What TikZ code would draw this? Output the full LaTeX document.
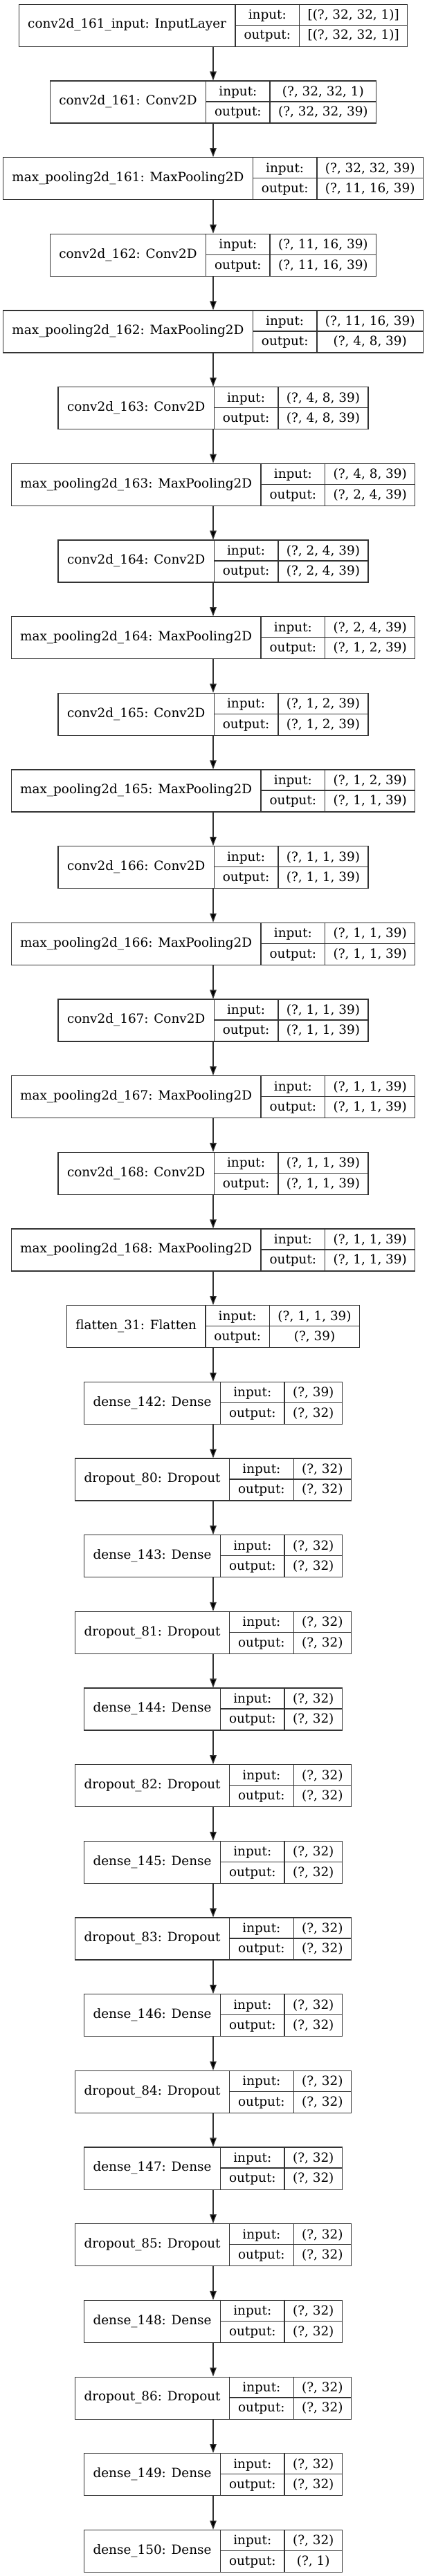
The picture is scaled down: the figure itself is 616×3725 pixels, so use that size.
\documentclass[tikz,border=0pt]{standalone}
\usepackage{fontspec}
\setmainfont{DejaVu Serif}
\usetikzlibrary{arrows.meta}
\newlength\LwA \newlength\LwB \newlength\LwI \newlength\LwO
\newcommand\lfont{\fontsize{18.4}{22}\selectfont}
\tikzset{
  layerbox/.style={draw=black!80, line width=1.3pt, inner sep=0pt},
  cellline/.style={draw=black!80, line width=1.3pt},
  lbl/.style={inner sep=0pt, anchor=base, font=\lfont},
  arr/.style={draw=black!80, line width=1.3pt, -{Triangle[length=13pt,width=9.5pt,fill=black]}},
}
\newcommand\layer[5]{%
  \pgfinterruptpicture
  \normalfont\lfont
  \settowidth\LwA{#3}\global\LwA=\LwA
  \settowidth\LwB{output:}\global\LwB=\LwB
  \settowidth\LwI{#4}\global\LwI=\LwI
  \settowidth\LwO{#5}\global\LwO=\LwO
  \endpgfinterruptpicture
  \pgfmathsetmacro\wa{\LwA+26}%
  \pgfmathsetmacro\wb{\LwB+25}%
  \pgfmathsetmacro\wc{max(\LwI,\LwO)+24}%
  \pgfmathsetmacro\W{\wa+\wb+\wc}%
  \pgfmathsetmacro\xl{308-\W/2}%
  \pgfmathsetmacro\xa{\xl+\wa}%
  \pgfmathsetmacro\xb{\xa+\wb}%
  \pgfmathsetmacro\xr{\xl+\W}%
  \pgfmathsetmacro\yt{-5.7-110.67*#2}%
  \pgfmathsetmacro\yb{\yt-61}%
  \pgfmathsetmacro\ym{\yt-30.5}%
  \node[layerbox, minimum width=\W pt, minimum height=61pt, anchor=north] (#1) at (308,\yt) {};
  \draw[cellline] (\xa,\yt) -- (\xa,\yb) (\xb,\yt) -- (\xb,\yb) (\xa,\ym) -- (\xr,\ym);
  \node[lbl] (#1-name) at ({(\xl+\xa)/2},\yt-35.3) {#3};
  \node[lbl] (#1-il) at ({(\xa+\xb)/2},\yt-22) {input:};
  \node[lbl] (#1-ol) at ({(\xa+\xb)/2},\yt-51.3) {output:};
  \node[lbl] (#1-iv) at ({(\xb+\xr)/2},\yt-22) {#4};
  \node[lbl] (#1-ov) at ({(\xb+\xr)/2},\yt-51.3) {#5};
}
\begin{document}
\begin{tikzpicture}[x=1pt,y=1pt]
\path[fill=white] (0,0) rectangle (616,-3725);
\useasboundingbox (0,0) rectangle (616,-3725);
\layer{L0}{0}{conv2d\_161\_input: InputLayer}{[(?, 32, 32, 1)]}{[(?, 32, 32, 1)]}
\layer{L1}{1}{conv2d\_161: Conv2D}{(?, 32, 32, 1)}{(?, 32, 32, 39)}
\layer{L2}{2}{max\_pooling2d\_161: MaxPooling2D}{(?, 32, 32, 39)}{(?, 11, 16, 39)}
\layer{L3}{3}{conv2d\_162: Conv2D}{(?, 11, 16, 39)}{(?, 11, 16, 39)}
\layer{L4}{4}{max\_pooling2d\_162: MaxPooling2D}{(?, 11, 16, 39)}{(?, 4, 8, 39)}
\layer{L5}{5}{conv2d\_163: Conv2D}{(?, 4, 8, 39)}{(?, 4, 8, 39)}
\layer{L6}{6}{max\_pooling2d\_163: MaxPooling2D}{(?, 4, 8, 39)}{(?, 2, 4, 39)}
\layer{L7}{7}{conv2d\_164: Conv2D}{(?, 2, 4, 39)}{(?, 2, 4, 39)}
\layer{L8}{8}{max\_pooling2d\_164: MaxPooling2D}{(?, 2, 4, 39)}{(?, 1, 2, 39)}
\layer{L9}{9}{conv2d\_165: Conv2D}{(?, 1, 2, 39)}{(?, 1, 2, 39)}
\layer{L10}{10}{max\_pooling2d\_165: MaxPooling2D}{(?, 1, 2, 39)}{(?, 1, 1, 39)}
\layer{L11}{11}{conv2d\_166: Conv2D}{(?, 1, 1, 39)}{(?, 1, 1, 39)}
\layer{L12}{12}{max\_pooling2d\_166: MaxPooling2D}{(?, 1, 1, 39)}{(?, 1, 1, 39)}
\layer{L13}{13}{conv2d\_167: Conv2D}{(?, 1, 1, 39)}{(?, 1, 1, 39)}
\layer{L14}{14}{max\_pooling2d\_167: MaxPooling2D}{(?, 1, 1, 39)}{(?, 1, 1, 39)}
\layer{L15}{15}{conv2d\_168: Conv2D}{(?, 1, 1, 39)}{(?, 1, 1, 39)}
\layer{L16}{16}{max\_pooling2d\_168: MaxPooling2D}{(?, 1, 1, 39)}{(?, 1, 1, 39)}
\layer{L17}{17}{flatten\_31: Flatten}{(?, 1, 1, 39)}{(?, 39)}
\layer{L18}{18}{dense\_142: Dense}{(?, 39)}{(?, 32)}
\layer{L19}{19}{dropout\_80: Dropout}{(?, 32)}{(?, 32)}
\layer{L20}{20}{dense\_143: Dense}{(?, 32)}{(?, 32)}
\layer{L21}{21}{dropout\_81: Dropout}{(?, 32)}{(?, 32)}
\layer{L22}{22}{dense\_144: Dense}{(?, 32)}{(?, 32)}
\layer{L23}{23}{dropout\_82: Dropout}{(?, 32)}{(?, 32)}
\layer{L24}{24}{dense\_145: Dense}{(?, 32)}{(?, 32)}
\layer{L25}{25}{dropout\_83: Dropout}{(?, 32)}{(?, 32)}
\layer{L26}{26}{dense\_146: Dense}{(?, 32)}{(?, 32)}
\layer{L27}{27}{dropout\_84: Dropout}{(?, 32)}{(?, 32)}
\layer{L28}{28}{dense\_147: Dense}{(?, 32)}{(?, 32)}
\layer{L29}{29}{dropout\_85: Dropout}{(?, 32)}{(?, 32)}
\layer{L30}{30}{dense\_148: Dense}{(?, 32)}{(?, 32)}
\layer{L31}{31}{dropout\_86: Dropout}{(?, 32)}{(?, 32)}
\layer{L32}{32}{dense\_149: Dense}{(?, 32)}{(?, 32)}
\layer{L33}{33}{dense\_150: Dense}{(?, 32)}{(?, 1)}
\foreach \i [evaluate=\i as \j using int(\i+1)] in {0,...,32}
  \draw[arr] (L\i.south) -- (L\j.north);
\end{tikzpicture}
\end{document}
